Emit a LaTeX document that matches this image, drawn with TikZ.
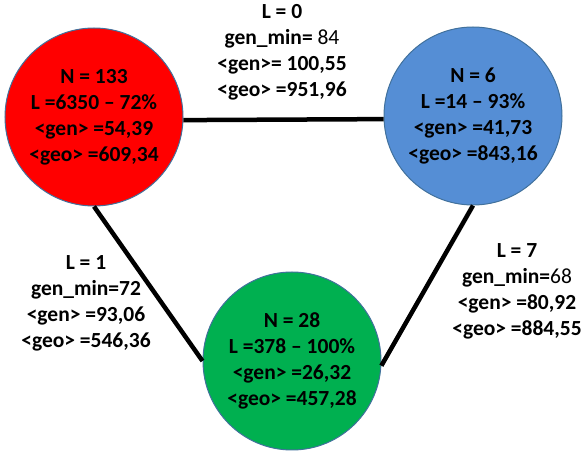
\documentclass[tikz,border=0pt]{standalone}
\usepackage{fontspec}
\setmainfont{Carlito}
\definecolor{cred}{HTML}{FF0000}
\definecolor{cblue}{HTML}{558ED5}
\definecolor{cgreen}{HTML}{00B050}
\definecolor{cedge}{HTML}{41719C}
\begin{document}
\begin{tikzpicture}[x=1pt,y=-1pt,
  blob/.style={circle,draw=cedge,line width=1pt,minimum size=178pt,inner sep=0pt,
    align=center,font=\bfseries\fontsize{21.5}{26}\selectfont},
  info/.style={align=center,font=\bfseries\fontsize{21.5}{26}\selectfont},
  link/.style={line width=4.5pt}]
\useasboundingbox (0,0) rectangle (587,454);
\node[blob,fill=cred] (red) at (94,117) {N = 133\\L =6350 – 72\%\\<gen> =54,39\\<geo> =609,34};
\node[blob,fill=cblue] (blue) at (473,116) {N = 6\\L =14 – 93\%\\<gen> =41,73\\<geo> =843,16};
\node[blob,fill=cgreen] (green) at (292,361) {N = 28\\L =378 – 100\%\\<gen> =26,32\\<geo> =457,28};
\draw[link] (red.-2) -- (blue.182);
\draw[link] (red.south) -- (green.west);
\draw[link] (blue.south) -- (green.-3);
\node[info] (l0) at (282,52) {L = 0\\gen\_min= {\mdseries 84}\\<gen>= 100,55\\<geo> =951,96};
\node[info] (l1) at (86,303) {L = 1\\gen\_min=72\\<gen> =93,06\\<geo> =546,36};
\node[info] (l7) at (517,291) {L = 7\\gen\_min={\mdseries 68}\\<gen> =80,92\\<geo> =884,55};
\end{tikzpicture}
\end{document}
